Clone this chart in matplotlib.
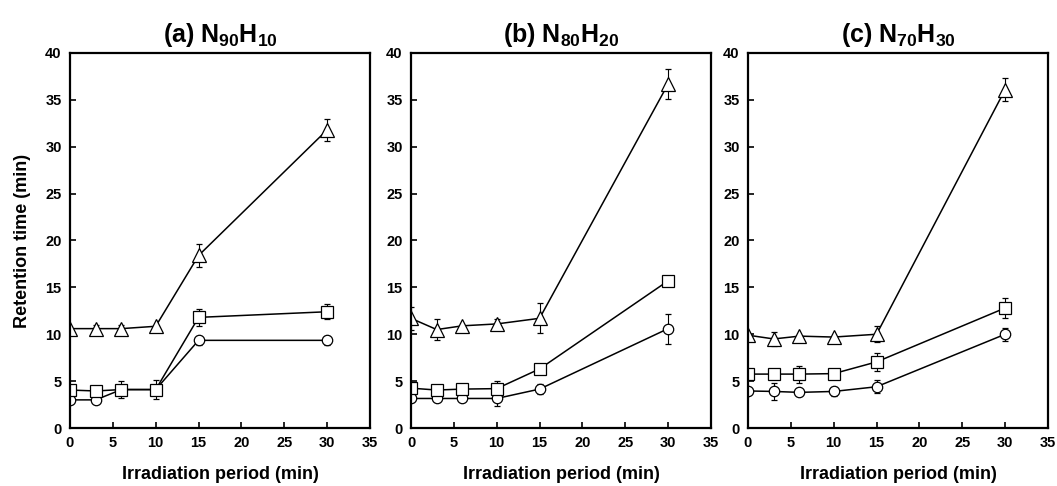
import matplotlib
matplotlib.use("Agg")
import matplotlib.pyplot as plt

plt.rcParams['font.family'] = ['Liberation Sans', 'DejaVu Sans']
plt.rcParams['font.weight'] = 'bold'
plt.rcParams['mathtext.fontset'] = 'custom'
plt.rcParams['mathtext.rm'] = 'Liberation Sans:bold'
plt.rcParams['mathtext.default'] = 'rm'

# Irradiation periods (min)
periods = [0, 3, 6, 10, 15, 30]

titles = [r"(a) N$_{90}$H$_{10}$", r"(b) N$_{80}$H$_{20}$", r"(c) N$_{70}$H$_{30}$"]

# Retention time (min) - triangle series
tri_a = [10.6, 10.6, 10.6, 10.85, 18.4, 31.8]
tri_a_err = [0.0, 0.4, 0.4, 0.0, 1.2, 1.2]
tri_b = [11.7, 10.5, 10.9, 11.1, 11.7, 36.7]
tri_b_err = [1.2, 1.1, 0.0, 0.5, 1.6, 1.6]
tri_c = [9.9, 9.5, 9.8, 9.7, 10.0, 36.1]
tri_c_err = [0.0, 0.7, 0.0, 0.0, 0.85, 1.2]

# square series
sq_a = [4.05, 3.95, 4.1, 4.1, 11.8, 12.4]
sq_a_err = [0.0, 0.0, 0.9, 1.0, 0.9, 0.8]
sq_b = [4.25, 4.05, 4.15, 4.2, 6.3, 15.7]
sq_b_err = [0.0, 0.0, 0.0, 0.8, 0.0, 0.0]
sq_c = [5.75, 5.75, 5.75, 5.8, 7.05, 12.8]
sq_c_err = [0.0, 0.0, 0.9, 0.0, 0.95, 1.1]

# circle series
ci_a = [3.0, 3.0, 4.1, 4.1, 9.35, 9.35]
ci_a_err = [0.0, 0.3, 0.0, 0.0, 0.5, 0.5]
ci_b = [3.15, 3.15, 3.15, 3.15, 4.15, 10.6]
ci_b_err = [0.0, 0.0, 0.0, 0.85, 0.5, 1.6]
ci_c = [3.95, 3.9, 3.8, 3.9, 4.4, 10.0]
ci_c_err = [0.0, 0.9, 0.0, 0.5, 0.7, 0.7]

panels = [
    (tri_a, tri_a_err, sq_a, sq_a_err, ci_a, ci_a_err),
    (tri_b, tri_b_err, sq_b, sq_b_err, ci_b, ci_b_err),
    (tri_c, tri_c_err, sq_c, sq_c_err, ci_c, ci_c_err),
]

fig = plt.figure(figsize=(10.57, 4.86), dpi=100)
W, H = 1057, 486
lefts = [70, 411, 748]
for i, (tri, tri_e, sq, sq_e, ci, ci_e) in enumerate(panels):
    ax = fig.add_axes([lefts[i] / W, (H - 428) / H, 300 / W, 375 / H])
    for vals, errs, mk, ms in [(ci, ci_e, 'o', 7.5), (sq, sq_e, 's', 8.5), (tri, tri_e, '^', 9.5)]:
        ax.errorbar(periods, vals, yerr=errs, color='black', lw=1.1, marker=mk,
                    ms=ms, mfc='white', mec='black', mew=0.9, ecolor='black',
                    elinewidth=0.8, capsize=2, capthick=0.8)
    ax.set_xlim(0, 35)
    ax.set_ylim(0, 40)
    ax.set_xticks(range(0, 36, 5))
    ax.set_yticks(range(0, 41, 5))
    ax.tick_params(direction='in', length=4, width=1.2, labelsize=10.5, pad=6)
    for s in ax.spines.values():
        s.set_linewidth(1.6)
    ax.set_title(titles[i], fontsize=18, fontweight='bold', pad=8)
    ax.set_xlabel("Irradiation period (min)", fontsize=13, fontweight='bold', labelpad=11)
    if i == 0:
        ax.set_ylabel("Retention time (min)", fontsize=13, fontweight='bold', labelpad=10)

fig.savefig("out.png", dpi=100)
